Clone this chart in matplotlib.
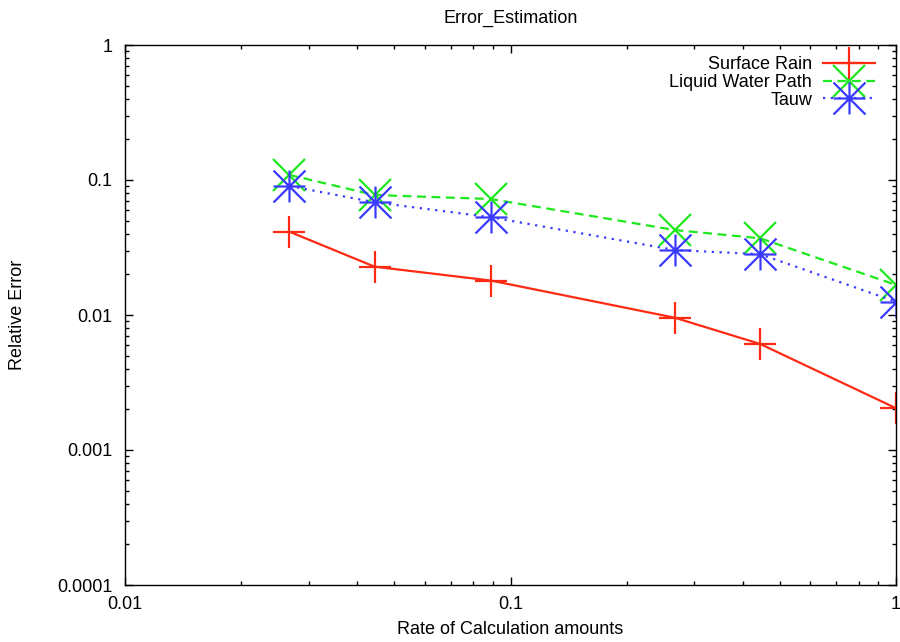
import matplotlib
matplotlib.use("Agg")
import matplotlib.pyplot as plt
from matplotlib.path import Path
from matplotlib.ticker import LogLocator, NullFormatter, FixedLocator, FixedFormatter

plt.rcParams['font.family'] = ['Liberation Sans', 'DejaVu Sans']

# Fraction of full calculation used
rate = [0.0267, 0.0444, 0.0889, 0.2667, 0.4444, 1.0]

# Relative error of each retrieved quantity
surface_rain = [0.0414, 0.0228, 0.0180, 0.00955, 0.0061, 0.00204]
liquid_water_path = [0.109, 0.0774, 0.0723, 0.0426, 0.0370, 0.0167]
tauw = [0.0903, 0.0684, 0.0530, 0.0303, 0.0282, 0.01255]

y_ticks = [0.0001, 0.001, 0.01, 0.1, 1]
y_labels = ["0.0001", "0.001", "0.01", "0.1", "1"]
x_ticks = [0.01, 0.1, 1]
x_labels = ["0.01", "0.1", "1"]

# plus + cross combined (gnuplot style star)
star = Path(
    [(-1, 0), (1, 0), (0, -1), (0, 1), (-1, -1), (1, 1), (-1, 1), (1, -1)],
    [Path.MOVETO, Path.LINETO] * 4,
)

FS = 13

fig = plt.figure(figsize=(9.0, 6.42), dpi=100)
ax = fig.add_axes([125 / 900, 1 - 585 / 642, (896 - 125) / 900, (585 - 45) / 642])

ms = 23
ax.plot(rate, surface_rain, color="#ff2a14", lw=1.6, ls="-",
        marker="+", ms=ms, mew=1.6, label="Surface Rain")
ax.plot(rate, liquid_water_path, color="#1ee81e", lw=1.6, ls=(0, (4, 2.5)),
        marker="x", ms=ms, mew=1.6, label="Liquid Water Path")
ax.plot(rate, tauw, color="#3a3aff", lw=1.6, ls=(0, (1, 2.5)),
        marker=star, ms=ms, mew=1.6, label="Tauw")

ax.set_xscale("log")
ax.set_yscale("log")
ax.set_xlim(0.01, 1)
ax.set_ylim(0.0001, 1)

ax.xaxis.set_major_locator(FixedLocator(x_ticks))
ax.xaxis.set_major_formatter(FixedFormatter(x_labels))
ax.yaxis.set_major_locator(FixedLocator(y_ticks))
ax.yaxis.set_major_formatter(FixedFormatter(y_labels))
ax.xaxis.set_minor_locator(LogLocator(base=10, subs=range(2, 10)))
ax.yaxis.set_minor_locator(LogLocator(base=10, subs=range(2, 10)))
ax.xaxis.set_minor_formatter(NullFormatter())
ax.yaxis.set_minor_formatter(NullFormatter())

ax.tick_params(which="both", direction="in", top=True, right=True, width=1.0)
ax.tick_params(which="major", length=6, labelsize=FS)
ax.tick_params(axis="y", which="major", pad=9)
ax.tick_params(axis="x", which="major", pad=8)
ax.tick_params(which="minor", length=3)
for sp in ax.spines.values():
    sp.set_linewidth(1.0)

ax.set_xlabel("Rate of Calculation amounts", fontsize=FS)
ax.xaxis.set_label_coords(0.5, (585 - 630) / 540)
ax.xaxis.label.set_va("center")
ax.set_ylabel("Relative Error", fontsize=FS)
ax.yaxis.set_label_coords((18 - 125) / 771, 0.5)
ax.yaxis.label.set_va("center")
ax.text(0.5, 1 + 27 / 540, "Error_Estimation", transform=ax.transAxes,
        ha="center", va="center", fontsize=FS)

ax.legend(loc="upper right", frameon=False, markerfirst=False, numpoints=1,
          fontsize=FS, handlelength=2.88, handletextpad=0.6, labelspacing=0.05,
          borderpad=0, borderaxespad=0,
          bbox_to_anchor=((875 - 125) / 771, (585 - 56) / 540))

fig.savefig("out.png", dpi=100)
